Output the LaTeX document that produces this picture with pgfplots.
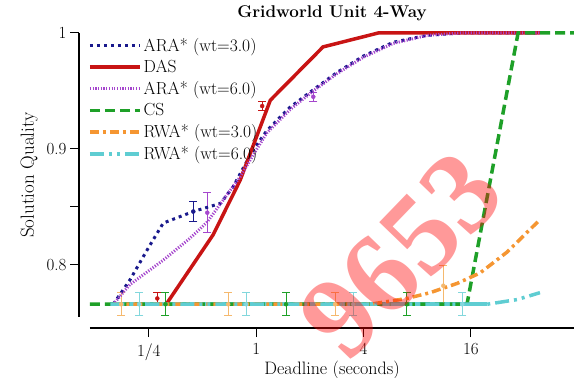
\documentclass[border=0pt]{standalone}
\usepackage{pgfplots}
\pgfplotsset{compat=1.18}
\usepackage{fontspec}
\newfontfamily\wmfont{Liberation Serif}
\definecolor{ara3}{RGB}{25,25,140}
\definecolor{das}{RGB}{200,20,20}
\definecolor{ara6}{RGB}{165,70,205}
\definecolor{cs}{RGB}{30,160,40}
\definecolor{rwa3}{RGB}{245,150,50}
\definecolor{rwa6}{RGB}{95,205,210}
\definecolor{rwa3e}{RGB}{245,185,110}
\definecolor{rwa6e}{RGB}{130,215,220}

\pgfplotstableread{
x y
0.158 0.766
0.196 0.787
0.245 0.813
0.301 0.836
0.444 0.846
0.63 0.853
0.74 0.867
0.96 0.899
1.15 0.916
1.55 0.936
2.09 0.951
2.84 0.966
3.98 0.980
5.86 0.992
9.1 0.998
13.9 1.0
39 1.0
}\araA
\pgfplotstableread{
x y
0.313 0.766
0.574 0.826
0.813 0.873
1.2 0.942
2.37 0.988
4.83 1.0
39 1.0
}\das
\pgfplotstableread{
x y
0.158 0.766
0.196 0.783
0.301 0.804
0.426 0.823
0.532 0.837
0.654 0.856
0.813 0.876
1.0 0.899
1.15 0.914
1.55 0.934
2.09 0.950
2.84 0.965
3.98 0.979
5.86 0.991
9.1 0.998
13.9 1.0
39 1.0
}\araB
\pgfplotstableread{
x y
0.117 0.766
15.2 0.766
29.4 1.0
60.5 1.0
}\cs
\pgfplotstableread{
x y
0.158 0.766
4.36 0.766
7.0 0.771
9.45 0.776
13.4 0.784
18.0 0.793
25.5 0.811
39 0.839
}\rwaA
\pgfplotstableread{
x y
0.152 0.766
19.7 0.766
29 0.770
39 0.776
}\rwaB
% error bars: x y e
\pgfplotstableread{
x y e
0.175 0.766 0.010
0.697 0.766 0.010
2.77 0.766 0.010
11.2 0.782 0.017
}\rwaAerr
\pgfplotstableread{
x y e
0.221 0.766 0.010
0.879 0.766 0.010
3.5 0.766 0.010
14.3 0.766 0.010
}\rwaBerr
\pgfplotstableread{
x y e
0.31 0.766 0.010
1.47 0.766 0.010
7.0 0.766 0.010
}\cserr
\pgfplotstableread{
x y e
0.279 0.771 0.005
1.08 0.937 0.004
}\daserr
\pgfplotstableread{
x y e
0.444 0.846 0.009
}\araAerr
\pgfplotstableread{
x y e
0.532 0.845 0.017
2.09 0.945 0.004
}\araBerr

\pgfplotsset{ebar/.style={#1, only marks, mark=none, forget plot,
  error bars/.cd, y dir=both, y explicit, error mark=|,
  error bar style={#1, line width=1pt},
  error mark options={#1, mark size=4pt, line width=1pt}}}

\begin{document}
\begin{tikzpicture}[font=\fontsize{16}{19}\selectfont]
\begin{axis}[
  at={(0,0)}, anchor=south west,
  scale only axis, width=484pt, height=284pt,
  xmode=log, log basis x=2,
  xmin=0.117, xmax=60.5, ymin=0.755, ymax=1.0,
  axis x line*=bottom, axis y line*=left,
  axis x line shift=11pt, axis y line shift=11pt,
  axis line style={line width=1.2pt},
  xtick={0.25,1,4,16}, xticklabels={1/4,1,4,16},
  xminorticks=false,
  ytick={0.8,0.9,1}, yticklabels={0.8,0.9,1},
  minor ytick={0.85},
  tick align=outside, major tick length=9pt, minor tick length=9pt,
  tick style={line width=1pt, black},
  /pgf/number format/assume math mode=true,
  tick label style={font=\fontsize{17}{20}\selectfont},
  xticklabel style={yshift=-3pt},
  title={Gridworld Unit 4-Way},
  title style={font=\fontsize{17}{20}\selectfont\bfseries, at={(0.5,1)}, anchor=south, yshift=3pt},
  xlabel={Deadline (seconds)}, ylabel={Solution Quality},
  xlabel style={font=\fontsize{18}{21}\selectfont, yshift=6pt},
  ylabel style={font=\fontsize{19}{22}\selectfont, yshift=2pt},
  legend style={at={(0,1)}, anchor=north west, xshift=-2pt, yshift=-3pt, draw=none, fill=none,
    inner sep=0pt, font=\fontsize{17.5}{20}\selectfont, row sep=3.4pt, cells={anchor=west},
    /tikz/every even column/.append style={column sep=6pt}},
  legend image code/.code={\draw[#1] (0pt,0pt) -- (50pt,0pt);},
  clip=false,
]
% cyan baseline band (drawn beneath everything)
\addplot[rwa6, line width=4.5pt, forget plot] table[x=x,y=y] {
x y
0.152 0.766
19.7 0.766
};
% error bars
\addplot[ebar=rwa3e] table[x=x,y=y,y error=e] {\rwaAerr};
\addplot[ebar=rwa6e] table[x=x,y=y,y error=e] {\rwaBerr};
\addplot[ebar=cs] table[x=x,y=y,y error=e] {\cserr};
\addplot[ebar=das] table[x=x,y=y,y error=e] {\daserr};
\addplot[ebar=ara3] table[x=x,y=y,y error=e] {\araAerr};
\addplot[ebar=ara6] table[x=x,y=y,y error=e] {\araBerr};
% series
\addplot[ara3, line width=3pt, dash pattern=on 3pt off 4pt] table[x=x,y=y] {\araA};
\addlegendentry{ARA* (wt=3.0)}
\addplot[das, line width=3.5pt] table[x=x,y=y] {\das};
\addlegendentry{DAS}
\addplot[ara6, line width=3pt, dash pattern=on 1.2pt off 1.5pt] table[x=x,y=y] {\araB};
\addlegendentry{ARA* (wt=6.0)}
\addplot[cs, line width=3.5pt, dash pattern=on 10pt off 5pt] table[x=x,y=y] {\cs};
\addlegendentry{CS}
\addplot[rwa3, line width=3.5pt, dash pattern=on 9pt off 4pt on 3pt off 4pt] table[x=x,y=y] {\rwaA};
\addlegendentry{RWA* (wt=3.0)}
\addplot[rwa6, line width=3.5pt, dash pattern=on 14pt off 5pt on 3pt off 5pt on 3pt off 5pt] table[x=x,y=y] {\rwaB};
\addlegendentry{RWA* (wt=6.0)}
\end{axis}
\node[rotate=46, text=red, opacity=0.4, font=\wmfont\bfseries\fontsize{116}{116}\selectfont] at (311pt,62pt) {9653};
\pgfresetboundingbox
\path (-90pt,-61pt) rectangle (484pt,317pt);
\end{tikzpicture}
\end{document}
